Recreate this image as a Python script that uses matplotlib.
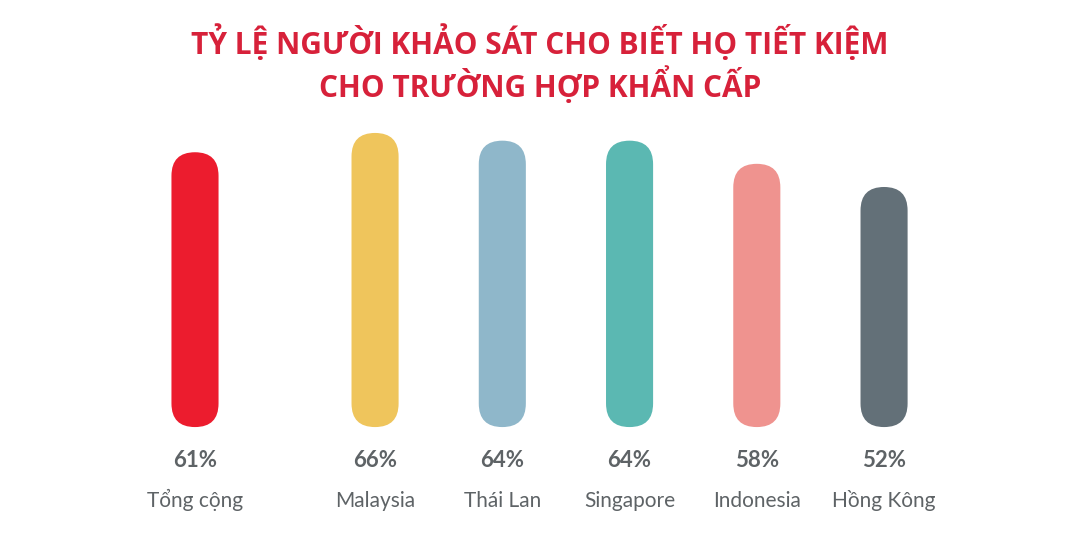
import matplotlib
matplotlib.use("Agg")
import matplotlib.pyplot as plt
from matplotlib.patches import FancyBboxPatch
from matplotlib import font_manager
import numpy as np

categories = ["Tổng cộng", "Malaysia", "Thái Lan", "Singapore", "Indonesia", "Hồng Kông"]
values = [61, 66, 64, 64, 58, 52]
value_labels = ["61%", "66%", "64%", "64%", "58%", "52%"]
colors = ["#EC1C2E", "#EFC55C", "#8FB7CA", "#5BB8B2", "#EF938F", "#637078"]
title_lines = ["TỶ LỆ NGƯỜI KHẢO SÁT CHO BIẾT HỌ TIẾT KIỆM",
               "CHO TRƯỜNG HỢP KHẨN CẤP"]

avail = {f.name for f in font_manager.fontManager.ttflist}
title_font = [f for f in ["Liberation Sans Narrow", "Open Sans", "DejaVu Sans"] if f in avail]
body_font = [f for f in ["Lato", "Noto Sans", "DejaVu Sans"] if f in avail]

W, H = 1080, 540
fig = plt.figure(figsize=(W / 100, H / 100), dpi=100)
fig.patch.set_facecolor("white")
ax = fig.add_axes([0, 0, 1, 1])

# layout: pixel mapping
x0_px, x_step = 195.0, 127.25
z_px, y_scale = 387.7, 3.86
ax.set_xlim((0 - x0_px) / x_step, (W - x0_px) / x_step)
ax.set_ylim((z_px - H) / y_scale, z_px / y_scale)
ax.axis("off")

n = len(values)
first_gap = 0.415
pos = np.arange(n) + np.where(np.arange(n) > 0, first_gap, 0.0)
bar_w = 0.37
base = -10.2

xpp = 1.0 / x_step
ypp = 1.0 / y_scale
aspect = ypp / xpp
for xi, v, c in zip(pos, values, colors):
    p = FancyBboxPatch((xi - bar_w / 2, base), bar_w, v - base,
                       boxstyle=f"round,pad=0,rounding_size={bar_w/2}",
                       mutation_aspect=aspect, facecolor=c, edgecolor="none")
    ax.add_patch(p)

for xi, lab, cat in zip(pos, value_labels, categories):
    ax.text(xi, (z_px - 467) / y_scale, lab, ha="center", va="baseline",
            fontsize=16, fontweight="bold", color="#5E6366", family=body_font)
    ax.text(xi, (z_px - 507) / y_scale, cat, ha="center", va="baseline",
            fontsize=15, color="#5E6366", family=body_font)

fig.text(0.5, 1 - 54 / H, title_lines[0], ha="center", va="baseline",
         fontsize=21.5, fontweight="bold", color="#D7213A", family=title_font)
fig.text(0.5, 1 - 97 / H, title_lines[1], ha="center", va="baseline",
         fontsize=21.5, fontweight="bold", color="#D7213A", family=title_font)

fig.savefig("out.png", dpi=100, facecolor="white")
